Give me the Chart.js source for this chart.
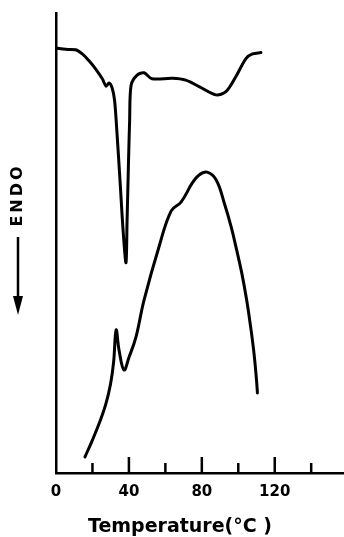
<!DOCTYPE html>
<html>
<head>
<meta charset="utf-8">
<script src="https://cdn.jsdelivr.net/npm/chart.js@4.4.0/dist/chart.umd.min.js"></script>
<style>
  html, body { margin:0; padding:0; background:#fff; }
  #wrap { width:344px; height:537px; }
</style>
</head>
<body>
<div id="wrap"><canvas id="c"></canvas></div>
<script>
// DSC traces, temperature (°C) vs. heat flow (arbitrary units, endo down)
const upperTemp = [0, 5.3, 10.8, 14.4, 18.1, 21.8, 25.4, 27.5, 29.1, 30.8, 32.1, 33.0, 35.1, 36.8, 38.4, 39.0, 39.8, 40.4, 41.2, 44.5, 48.3, 52.7, 63.9, 71.2, 78.5, 87.7, 93.2, 98.7, 104.2, 107.8, 112.4];
const upperFlow = [92.4, 92.1, 92.0, 91.1, 89.6, 87.8, 85.7, 84.1, 84.8, 83.7, 81.1, 76.7, 63.7, 52.8, 45.7, 55.0, 68.0, 76.7, 84.3, 86.5, 87.0, 85.7, 85.8, 85.4, 84.0, 82.2, 82.9, 86.2, 90.1, 91.1, 91.4];

const lowerTemp = [15.9, 19.8, 23.6, 27.2, 29.9, 31.6, 33.0, 34.6, 37.3, 40.1, 43.9, 48.3, 56.6, 63.2, 68.6, 74.7, 78.5, 82.9, 87.9, 92.3, 96.1, 99.1, 101.9, 104.6, 106.8, 108.6, 110.0, 110.5];
const lowerFlow = [3.5, 7.0, 10.7, 14.8, 19.3, 24.1, 31.1, 26.7, 22.4, 25.2, 29.6, 37.6, 49.3, 57.0, 58.9, 63.0, 64.8, 65.4, 63.7, 58.7, 53.5, 48.5, 43.5, 37.6, 31.7, 26.1, 20.2, 17.4];

const majorTicks = [40, 80, 120];
const minorTicks = [20, 60, 100, 140];
const tickLabels = [0, 40, 80, 120];
const xTitle = 'Temperature(°C )';

const FONT = "'DejaVu Sans', sans-serif";

// tick marks point up into the plot, long at 40/80/120, short in between
const innerTicks = {
  id: 'innerTicks',
  afterDraw(chart) {
    const { ctx, chartArea, scales: { x } } = chart;
    ctx.save();
    ctx.strokeStyle = '#000';
    ctx.lineWidth = 2.5;
    const mark = (v, len) => {
      const px = x.getPixelForValue(v);
      ctx.beginPath();
      ctx.moveTo(px, chartArea.bottom);
      ctx.lineTo(px, chartArea.bottom - len);
      ctx.stroke();
    };
    majorTicks.forEach(v => mark(v, 16));
    minorTicks.forEach(v => mark(v, 10));
    ctx.restore();
  }
};

// axis labels: "ENDO" with downward arrow on the left, x title sitting left of centre
const axisLabels = {
  id: 'axisLabels',
  afterDraw(chart) {
    const ctx = chart.ctx;
    const cx = 18;
    ctx.save();
    ctx.fillStyle = '#000';
    ctx.translate(cx, 195);
    ctx.rotate(-Math.PI / 2);
    ctx.font = "bold 16px " + FONT;
    ctx.letterSpacing = '3px';
    ctx.textAlign = 'center';
    ctx.textBaseline = 'middle';
    ctx.fillText('ENDO', 0, 0);
    ctx.restore();

    ctx.save();
    ctx.strokeStyle = '#000';
    ctx.fillStyle = '#000';
    ctx.lineWidth = 2.5;
    ctx.beginPath();
    ctx.moveTo(cx, 237);
    ctx.lineTo(cx, 300);
    ctx.stroke();
    ctx.beginPath();
    ctx.moveTo(cx - 5, 296);
    ctx.lineTo(cx + 5, 296);
    ctx.lineTo(cx, 315);
    ctx.closePath();
    ctx.fill();
    ctx.restore();

    ctx.save();
    ctx.fillStyle = '#000';
    ctx.font = "bold 19px " + FONT;
    ctx.textAlign = 'center';
    ctx.textBaseline = 'middle';
    ctx.fillText(xTitle, 180, 527);
    ctx.restore();
  }
};

const lineStyle = {
  borderColor: '#000',
  borderWidth: 3,
  pointRadius: 0,
  tension: 0.4,
  borderCapStyle: 'round',
  borderJoinStyle: 'round',
  fill: false
};

new Chart(document.getElementById('c'), {
  type: 'line',
  data: {
    datasets: [
      { ...lineStyle, tension: 0.3, data: upperTemp.map((t, i) => ({ x: t, y: upperFlow[i] })) },
      { ...lineStyle, data: lowerTemp.map((t, i) => ({ x: t, y: lowerFlow[i] })) }
    ]
  },
  options: {
    responsive: true,
    maintainAspectRatio: false,
    animation: false,
    layout: { padding: { top: 13, right: 0, left: 0, bottom: 0 } },
    plugins: { legend: { display: false }, tooltip: { enabled: false } },
    scales: {
      x: {
        type: 'linear', min: 0, max: 158,
        afterFit: s => { s.height = 64; },
        grid: { display: false, drawTicks: false },
        border: { color: '#000', width: 2.5 },
        ticks: {
          stepSize: 20, includeBounds: false, autoSkip: false, maxRotation: 0,
          padding: 10, color: '#000',
          font: { family: FONT, size: 15, weight: 'bold' },
          callback: v => tickLabels.includes(v) ? String(v) : ''
        },
        title: { display: false }
      },
      y: {
        min: 0, max: 100,
        afterFit: s => { s.width = 56; },
        grid: { display: false, drawTicks: false },
        border: { color: '#000', width: 2.5 },
        ticks: { display: false }
      }
    }
  },
  plugins: [innerTicks, axisLabels]
});
</script>
</body>
</html>
